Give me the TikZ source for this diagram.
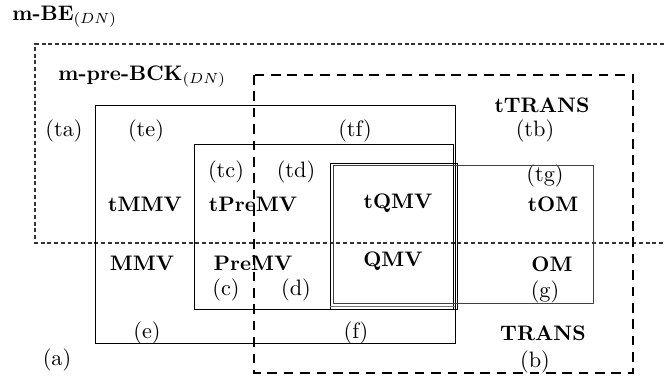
\documentclass[tikz,border=0pt]{standalone}
\begin{document}
\begin{tikzpicture}[x=0.476pt,y=-0.476pt,
  lbl/.style={inner sep=0pt, font=\fontsize{10.6}{12}\selectfont},
  cls/.style={inner sep=0pt, font=\bfseries},
  frame/.style={draw=black, line width=0.4pt},
  dotbox/.style={draw=black!80, line width=0.55pt, dash pattern=on 1.9pt off 1.3pt},
  dashbox/.style={draw=black, line width=0.7pt, dash pattern=on 4.6pt off 3.2pt}]
\useasboundingbox (0,0) rectangle (664,379);

% class names
\node[inner sep=0pt, anchor=base west] (mbe) at (12,20) {\textbf{m-BE}$_{(DN)}$};
\node[inner sep=0pt, anchor=base west] (mpre) at (58,80) {\textbf{m-pre-BCK}$_{(DN)}$};
\node[cls] (ttrans) at (542,105) {tTRANS};
\node[cls] (trans) at (543,333) {TRANS};
\node[cls] (tmmv) at (145,204) {tMMV};
\node[cls] (tpremv) at (253,204) {tPreMV};
\node[cls] (tqmv) at (398,203) {tQMV};
\node[cls] (tom) at (553,204) {tOM};
\node[cls] (mmv) at (142,263) {MMV};
\node[cls] (premv) at (253,263) {PreMV};
\node[cls] (qmv) at (393,261) {QMV};
\node[cls] (om) at (552,264) {OM};

% region labels
\node[lbl] (ta) at (64,131) {(ta)};
\node[lbl] (te) at (146,131) {(te)};
\node[lbl] (tf) at (355,131) {(tf)};
\node[lbl] (tb) at (535,131) {(tb)};
\node[lbl] (tc) at (226,172) {(tc)};
\node[lbl] (td) at (296,172) {(td)};
\node[lbl] (tg) at (545,176) {(tg)};
\node[lbl] (c) at (226,290) {(c)};
\node[lbl] (d) at (296,290) {(d)};
\node[lbl] (g) at (545,292) {(g)};
\node[lbl] (e) at (147,333) {(e)};
\node[lbl] (f) at (356,333) {(f)};
\node[lbl] (b) at (535,362) {(b)};
\node[lbl] (a) at (57,360) {(a)};

% m-BE region (open to the right)
\draw[dotbox] (664,44) -- (35,44) -- (35,243) -- (664,243);
% nested solid regions
\draw[frame] (95,105) rectangle (455,343);
\draw[frame] (194,144) rectangle (453,309);
\draw[frame] (330,163) rectangle (457.5,309);
\draw[frame, draw=black!55] (330,306) -- (455,306);
\draw[frame, draw=black!75] (333.5,165.5) rectangle (593,303);
% TRANS region
\draw[dashbox] (254,75) rectangle (633,373);
\end{tikzpicture}
\end{document}
